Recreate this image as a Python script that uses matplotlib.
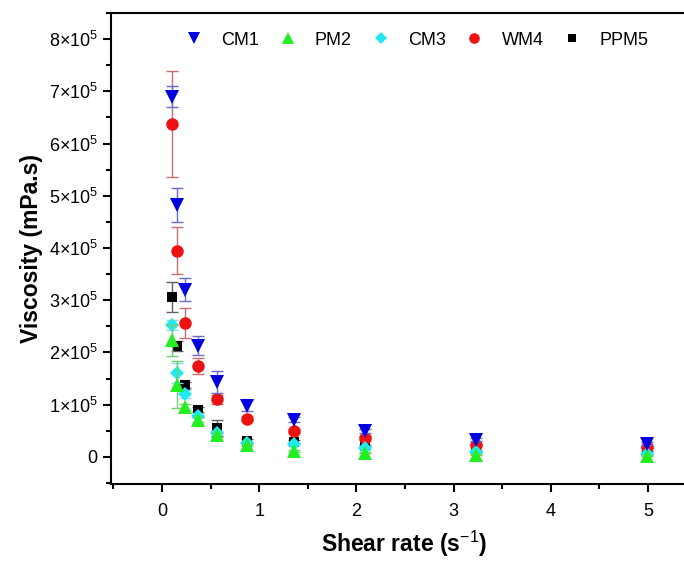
import matplotlib
matplotlib.use("Agg")
import matplotlib.pyplot as plt
from matplotlib.ticker import MultipleLocator, FuncFormatter

plt.rcParams['font.family'] = ['Liberation Sans', 'DejaVu Sans']
plt.rcParams['mathtext.fontset'] = 'custom'
plt.rcParams['mathtext.rm'] = 'Liberation Sans'
plt.rcParams['mathtext.it'] = 'Liberation Sans:italic'
plt.rcParams['mathtext.bf'] = 'Liberation Sans:bold'

shear_rate = [0.1, 0.154, 0.238, 0.368, 0.568, 0.877, 1.354, 2.09, 3.23, 4.99]

cm1 = [6.90e5, 4.82e5, 3.20e5, 2.13e5, 1.44e5, 0.98e5, 0.71e5, 0.50e5, 0.33e5, 0.25e5]
cm1_err = [0.20e5, 0.32e5, 0.22e5, 0.18e5, 0.21e5, 0.10e5, 0.05e5, 0.04e5, 0.03e5, 0.03e5]

pm2 = [2.23e5, 1.38e5, 0.96e5, 0.71e5, 0.42e5, 0.22e5, 0.12e5, 0.08e5, 0.04e5, 0.02e5]
pm2_err = [0.30e5, 0.45e5, 0.06e5, 0.05e5, 0.04e5, 0.02e5, 0.02e5, 0.01e5, 0.01e5, 0.01e5]

cm3 = [2.53e5, 1.61e5, 1.20e5, 0.79e5, 0.45e5, 0.26e5, 0.25e5, 0.17e5, 0.10e5, 0.05e5]
cm3_err = [0.10e5, 0.19e5, 0.08e5, 0.05e5, 0.04e5, 0.02e5, 0.02e5, 0.02e5, 0.02e5, 0.02e5]

wm4 = [6.37e5, 3.95e5, 2.57e5, 1.74e5, 1.10e5, 0.73e5, 0.50e5, 0.36e5, 0.23e5, 0.18e5]
wm4_err = [1.02e5, 0.45e5, 0.29e5, 0.16e5, 0.08e5, 0.05e5, 0.04e5, 0.03e5, 0.02e5, 0.02e5]

ppm5 = [3.06e5, 2.12e5, 1.38e5, 0.90e5, 0.55e5, 0.31e5, 0.29e5, 0.20e5, 0.12e5, 0.10e5]
ppm5_err = [0.28e5, 0.10e5, 0.06e5, 0.05e5, 0.15e5, 0.03e5, 0.03e5, 0.02e5, 0.02e5, 0.02e5]

labels = ["CM1", "PM2", "CM3", "WM4", "PPM5"]
series = [
    (cm1, cm1_err, "v", "#0000e0", "#6a6ac8", 9.5),
    (pm2, pm2_err, "^", "#22ee22", "#70d070", 9.5),
    (cm3, cm3_err, "D", "#22e8f0", "#80e0e8", 7.5),
    (wm4, wm4_err, "o", "#ee1111", "#c87070", 9.0),
    (ppm5, ppm5_err, "s", "#000000", "#606060", 7.5),
]

fig = plt.figure(figsize=(6.84, 5.61), dpi=100)
ax = fig.add_axes([111/684, 1-484/561, 1.02 - 111/684, (484-13)/561])

handles = []
n = len(series)
for i, (lab, (vals, errs, mk, col, ecol, ms)) in enumerate(zip(labels, series)):
    z = 3 + 2 * (n - i)
    ax.errorbar(shear_rate, vals, yerr=errs, fmt='none', ecolor=ecol,
                elinewidth=1.0, capsize=4, capthick=1.0, zorder=z - 1)
    ln, = ax.plot(shear_rate, vals, linestyle='none', marker=mk, color=col,
                  markersize=ms, markeredgewidth=0, label=lab, zorder=z)
    handles.append(ln)

ax.set_xlim(-0.525, 5.51)
ax.set_ylim(-0.52e5, 8.5e5)
ax.xaxis.set_major_locator(MultipleLocator(1))
ax.xaxis.set_minor_locator(MultipleLocator(0.5))
ax.yaxis.set_major_locator(MultipleLocator(1e5))
ax.yaxis.set_minor_locator(MultipleLocator(0.5e5))

def yfmt(v, pos):
    k = int(round(v / 1e5))
    if k == 0:
        return "0"
    return r"$%d{\times}10^{5}$" % k
ax.yaxis.set_major_formatter(FuncFormatter(yfmt))

ax.spines['right'].set_visible(False)
for s in ['left', 'bottom', 'top']:
    ax.spines[s].set_linewidth(1.5)
ax.tick_params(which='major', direction='out', length=6, width=1.5, labelsize=13,
               top=False, right=False)
ax.tick_params(which='minor', direction='out', length=3.5, width=1.5, top=False, right=False)
ax.tick_params(axis='x', pad=8)

ax.set_xlabel("Shear rate (s$^{-1}$)", fontsize=16.5, fontweight='bold', labelpad=6)
ax.set_ylabel("Viscosity (mPa.s)", fontsize=16.5, fontweight='bold', labelpad=4)

leg = ax.legend(handles=handles, loc='upper left', bbox_to_anchor=(0.095, 0.995), ncol=5,
                frameon=False, fontsize=13, handletextpad=0.9, columnspacing=1.0,
                handlelength=1.2, numpoints=1, markerscale=0.85)

fig.savefig("out.png", dpi=100)
